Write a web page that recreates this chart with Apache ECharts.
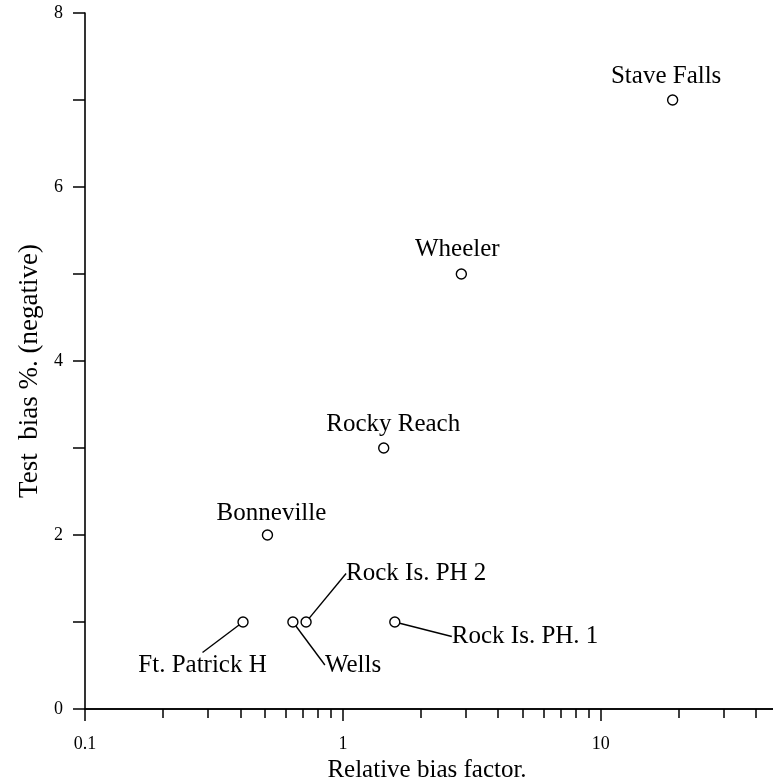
<!DOCTYPE html>
<html><head><meta charset="utf-8">
<script src="https://cdn.jsdelivr.net/npm/echarts@6/dist/echarts.min.js"></script>
<style>html,body{margin:0;padding:0;background:#fff}#c{width:773px;height:782px}</style>
</head><body><div id="c"></div>
<script>
// ---- data ----
const stations = ['Stave Falls', 'Wheeler', 'Rocky Reach', 'Bonneville', 'Rock Is. PH 2', 'Wells', 'Rock Is. PH. 1', 'Ft. Patrick H'];
const biasFactor = [19, 2.88, 1.44, 0.51, 0.72, 0.64, 1.59, 0.41];
const testBias = [7, 5, 3, 2, 1, 1, 1, 1];
const xMajorTicks = [0.1, 1, 10];
const xMinorTicks = [0.2, 0.3, 0.4, 0.5, 0.6, 0.7, 0.8, 0.9, 2, 3, 4, 5, 6, 7, 8, 9, 20, 30, 40];
const yLabelValues = [0, 2, 4, 6, 8];

// ---- label placement (layout only) ----
const labelPlacement = {
  'Stave Falls':    {dx: -6.5, dy: -24,   align: 'center', line: false},
  'Wheeler':        {dx: -4,   dy: -25,   align: 'center', line: false},
  'Rocky Reach':    {dx: 9.5,  dy: -24,   align: 'center', line: false},
  'Bonneville':     {dx: 4,    dy: -21.5, align: 'center', line: false},
  'Rock Is. PH 2':  {dx: 40,   dy: -48.5, align: 'left',   line: true},
  'Wells':          {dx: 32,   dy: 43,    align: 'left',   line: true},
  'Rock Is. PH. 1': {dx: 57,   dy: 14.5,  align: 'left',   line: true},
  'Ft. Patrick H':  {dx: -40.5, dy: 43,   align: 'center', line: true, pad: [0, 30, 0, 30]}
};

const FONT = 'Liberation Serif';
const points = stations.map((n, i) => {
  const p = labelPlacement[n];
  const lbl = {align: p.align};
  if (p.pad) { lbl.padding = p.pad; lbl.backgroundColor = 'rgba(255,255,255,0)'; }
  return {
    name: n,
    value: [biasFactor[i], testBias[i]],
    label: lbl,
    labelLine: {show: p.line}
  };
});

const chart = echarts.init(document.getElementById('c'), null, {renderer: 'canvas'});
const axisCommon = {
  type: 'log', logBase: 10, min: 0.1, max: 50, position: 'bottom',
  axisLine: {show: true, lineStyle: {color: '#000', width: 1.6}},
  splitLine: {show: false}, minorTick: {show: false}, minorSplitLine: {show: false}
};
chart.setOption({
  backgroundColor: '#fff',
  animation: false,
  grid: {left: 85, top: 13, right: -8, bottom: 73, containLabel: false, outerBoundsMode: 'none'},
  xAxis: [
    Object.assign({}, axisCommon, {
      axisTick: {show: true, length: 9, customValues: xMinorTicks, lineStyle: {color: '#000', width: 1.5}},
      axisLabel: {show: false}
    }),
    Object.assign({}, axisCommon, {
      axisTick: {show: true, length: 12, customValues: xMajorTicks, lineStyle: {color: '#000', width: 1.5}},
      axisLabel: {show: true, customValues: xMajorTicks, margin: 26, color: '#000', fontFamily: FONT, fontSize: 18,
        formatter: v => String(v)},
      name: 'Relative bias factor.', nameLocation: 'middle', nameGap: 48,
      nameTextStyle: {color: '#000', fontFamily: FONT, fontSize: 25, padding: [0, 12, 0, 0]}
    })
  ],
  yAxis: {
    type: 'value', min: 0, max: 8, interval: 1,
    axisLine: {show: true, lineStyle: {color: '#000', width: 1.6}},
    axisTick: {show: true, length: 12, lineStyle: {color: '#000', width: 1.5}},
    axisLabel: {show: true, margin: 22, color: '#000', fontFamily: FONT, fontSize: 18,
      formatter: v => (yLabelValues.indexOf(v) >= 0 ? String(v) : '')},
    splitLine: {show: false},
    name: 'Test  bias %. (negative)', nameLocation: 'middle', nameGap: 42, nameRotate: 90,
    nameTextStyle: {color: '#000', fontFamily: FONT, fontSize: 27, padding: [0, 20, 0, 0]}
  },
  series: [{
    type: 'scatter',
    xAxisIndex: 0,
    data: points,
    symbol: 'circle',
    symbolSize: 10,
    itemStyle: {color: '#fff', borderColor: '#000', borderWidth: 1.4, opacity: 1},
    label: {show: true, position: 'inside', formatter: '{b}', color: '#000', fontFamily: FONT, fontSize: 25,
      verticalAlign: 'middle'},
    labelLine: {show: false, length2: 0, lineStyle: {color: '#000', width: 1.4}},
    labelLayout: function (params) {
      const p = labelPlacement[stations[params.dataIndex]];
      return {dx: p.dx, dy: p.dy, hideOverlap: false};
    },
    emphasis: {disabled: true}
  }]
});
</script>
</body></html>
